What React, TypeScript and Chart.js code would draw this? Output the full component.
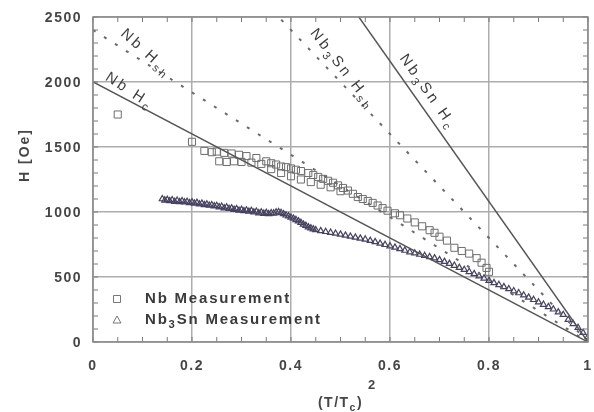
import React, { useEffect, useRef } from 'react';
import { Chart, registerables } from 'chart.js';

Chart.register(...registerables);

// ---- data ----
const nbMeasX = [0.05, 0.2, 0.225, 0.24, 0.25, 0.255, 0.265, 0.27, 0.28, 0.285, 0.295, 0.3, 0.31, 0.32, 0.33, 0.34, 0.35, 0.36, 0.37, 0.38, 0.39, 0.4, 0.41, 0.42, 0.435, 0.445, 0.455, 0.465, 0.475, 0.485, 0.495, 0.505, 0.515, 0.525, 0.535, 0.545, 0.555, 0.565, 0.575, 0.585, 0.595, 0.61, 0.62, 0.635, 0.65, 0.665, 0.68, 0.69, 0.7, 0.715, 0.73, 0.745, 0.76, 0.775, 0.785, 0.795, 0.8, 0.36, 0.38, 0.4, 0.42, 0.44, 0.46, 0.48, 0.5];
const nbMeasH = [1750, 1540, 1470, 1460, 1465, 1390, 1455, 1385, 1450, 1390, 1440, 1385, 1430, 1380, 1415, 1370, 1390, 1375, 1365, 1350, 1345, 1335, 1325, 1315, 1300, 1285, 1270, 1255, 1240, 1225, 1205, 1185, 1165, 1140, 1115, 1100, 1085, 1070, 1050, 1030, 1010, 990, 975, 950, 920, 890, 860, 840, 810, 780, 725, 700, 680, 645, 610, 570, 540, 1330, 1300, 1275, 1250, 1230, 1210, 1190, 1160];

const nb3SnMeasX = [0.14, 0.145, 0.15, 0.155, 0.16, 0.165, 0.17, 0.175, 0.18, 0.185, 0.19, 0.195, 0.2, 0.205, 0.21, 0.215, 0.22, 0.225, 0.23, 0.235, 0.24, 0.245, 0.25, 0.255, 0.26, 0.265, 0.27, 0.275, 0.28, 0.285, 0.29, 0.295, 0.3, 0.305, 0.31, 0.315, 0.32, 0.325, 0.33, 0.335, 0.34, 0.345, 0.35, 0.355, 0.36, 0.365, 0.37, 0.375, 0.38, 0.385, 0.39, 0.395, 0.4, 0.405, 0.41, 0.415, 0.42, 0.425, 0.43, 0.435, 0.44, 0.445, 0.45, 0.46, 0.47, 0.48, 0.49, 0.5, 0.51, 0.52, 0.53, 0.54, 0.55, 0.56, 0.57, 0.58, 0.59, 0.6, 0.61, 0.62, 0.63, 0.64, 0.65, 0.66, 0.67, 0.68, 0.69, 0.7, 0.71, 0.72, 0.73, 0.74, 0.75, 0.76, 0.77, 0.78, 0.79, 0.8, 0.81, 0.82, 0.83, 0.84, 0.85, 0.86, 0.87, 0.88, 0.89, 0.9, 0.91, 0.92, 0.93, 0.94, 0.95, 0.96, 0.97, 0.98, 0.99, 1.0];
const nb3SnMeasH = [1100, 1090, 1095, 1085, 1092, 1080, 1088, 1078, 1085, 1075, 1080, 1070, 1076, 1066, 1072, 1060, 1066, 1055, 1060, 1050, 1054, 1045, 1048, 1038, 1042, 1030, 1036, 1025, 1030, 1018, 1024, 1012, 1018, 1008, 1014, 1004, 1010, 998, 1004, 992, 998, 988, 995, 985, 992, 990, 998, 1000, 994, 985, 975, 968, 958, 950, 940, 930, 918, 905, 895, 884, 876, 868, 862, 855, 848, 842, 835, 828, 820, 812, 805, 797, 790, 780, 770, 758, 748, 738, 728, 716, 704, 692, 683, 673, 664, 655, 645, 632, 618, 603, 588, 572, 556, 540, 524, 507, 490, 472, 455, 440, 424, 408, 392, 377, 360, 343, 325, 306, 288, 270, 252, 230, 210, 172, 140, 110, 72, 40];

const lineX = [0, 1];
const nbHc = [2000, 0];
const nbHsh = [2400, 0];
const nb3SnHsh = [4000, 0];
const nb3SnHc = [5400, 0];

const xTicks = [0, 0.2, 0.4, 0.6, 0.8, 1];
const xTickLabels = ['0', '0.2', '0.4', '0.6', '0.8', '1'];
const yTicks = [0, 500, 1000, 1500, 2000, 2500];
const yTickLabels = ['0', '500', '1000', '1500', '2000', '2500'];

type Part = { t: string; sub?: boolean; sup?: boolean };
const curveLabels: { parts: Part[]; x: number; y: number; angle: number }[] = [
  { parts: [{ t: 'Nb H' }, { t: 'sh', sub: true }], x: 0.108, y: 2223, angle: 42 },
  { parts: [{ t: 'Nb H' }, { t: 'c', sub: true }], x: 0.074, y: 1931, angle: 33 },
  { parts: [{ t: 'Nb' }, { t: '3', sub: true }, { t: 'Sn H' }, { t: 'sh', sub: true }], x: 0.505, y: 2100, angle: 52 },
  { parts: [{ t: 'Nb' }, { t: '3', sub: true }, { t: 'Sn H' }, { t: 'c', sub: true }], x: 0.677, y: 1923, angle: 55 },
];

const legendItems: { parts: Part[]; style: string }[] = [
  { parts: [{ t: 'Nb Measurement' }], style: 'rect' },
  { parts: [{ t: 'Nb' }, { t: '3', sub: true }, { t: 'Sn Measurement' }], style: 'triangle' },
];

const FONT = '"Liberation Sans", Arial, Helvetica, sans-serif';

function drawRich(ctx: CanvasRenderingContext2D, parts: Part[], x: number, y: number, size: number, weight: string, align: 'left' | 'center' | 'right') {
  const widths: number[] = [];
  let total = 0;
  parts.forEach((p) => {
    const s = p.sub || p.sup ? size * 0.75 : size;
    ctx.font = `${weight} ${s}px ${FONT}`;
    const w = ctx.measureText(p.t).width;
    widths.push(w);
    total += w;
  });
  let cx = align === 'center' ? x - total / 2 : align === 'right' ? x - total : x;
  ctx.textAlign = 'left';
  parts.forEach((p, i) => {
    const s = p.sub || p.sup ? size * 0.75 : size;
    ctx.font = `${weight} ${s}px ${FONT}`;
    const dy = p.sub ? size * 0.35 : p.sup ? -size * 0.45 : 0;
    ctx.fillText(p.t, cx, y + dy);
    cx += widths[i];
  });
  return total;
}

const overlay = {
  id: 'overlay',
  afterDatasetsDraw(chart: any) {
    const ctx: CanvasRenderingContext2D = chart.ctx;
    const xs = chart.scales.x;
    const ys = chart.scales.y;
    const a = chart.chartArea;
    ctx.save();
    // minor ticks
    ctx.strokeStyle = '#7a7a7a';
    ctx.lineWidth = 1;
    ctx.beginPath();
    for (let i = 0; i <= 20; i++) {
      const px = xs.getPixelForValue(i * 0.05);
      ctx.moveTo(px, a.bottom);
      ctx.lineTo(px, a.bottom - 5);
      ctx.moveTo(px, a.top);
      ctx.lineTo(px, a.top + 5);
    }
    for (let i = 0; i <= 25; i++) {
      const py = ys.getPixelForValue(i * 100);
      ctx.moveTo(a.left, py);
      ctx.lineTo(a.left + 5, py);
      ctx.moveTo(a.right, py);
      ctx.lineTo(a.right - 5, py);
    }
    ctx.stroke();
    // box
    ctx.strokeStyle = '#8a8a8a';
    ctx.lineWidth = 1.5;
    ctx.strokeRect(a.left, a.top, a.right - a.left, a.bottom - a.top);

    // tick labels
    ctx.fillStyle = '#464646';
    (ctx as any).letterSpacing = '1.5px';
    ctx.textBaseline = 'middle';
    xTicks.forEach((v, i) => {
      drawRich(ctx, [{ t: xTickLabels[i] }], xs.getPixelForValue(v), 366, 14, 'bold', 'center');
    });
    yTicks.forEach((v, i) => {
      drawRich(ctx, [{ t: yTickLabels[i] }], 82, ys.getPixelForValue(v) + 1, 14, 'bold', 'right');
    });

    // axis titles
    (ctx as any).letterSpacing = '2px';
    ctx.save();
    ctx.translate(25, 155);
    ctx.rotate(-Math.PI / 2);
    drawRich(ctx, [{ t: 'H [Oe]' }], 0, 0, 14, 'bold', 'center');
    ctx.restore();
    (ctx as any).letterSpacing = '1.5px';
    const tw = drawRich(ctx, [{ t: '(T/T' }, { t: 'c', sub: true }, { t: ')' }], (a.left + a.right) / 2, 403, 14, 'bold', 'center');
    drawRich(ctx, [{ t: '2' }], (a.left + a.right) / 2 + tw / 2 + 5, 385, 13, 'bold', 'left');

    // curve labels
    ctx.fillStyle = '#3e3e3e';
    (ctx as any).letterSpacing = '3px';
    curveLabels.forEach((c) => {
      ctx.save();
      ctx.translate(xs.getPixelForValue(c.x), ys.getPixelForValue(c.y));
      ctx.rotate((c.angle * Math.PI) / 180);
      drawRich(ctx, c.parts, 0, 0, 15, 'normal', 'center');
      ctx.restore();
    });

    // legend
    (ctx as any).letterSpacing = '1.8px';
    const lx = a.left + 24;
    const ly = [299, 320];
    legendItems.forEach((it, i) => {
      ctx.strokeStyle = '#777';
      ctx.lineWidth = 1;
      ctx.beginPath();
      if (it.style === 'rect') {
        ctx.rect(lx - 3.5, ly[i] - 3.5, 7, 7);
      } else {
        ctx.moveTo(lx, ly[i] - 4);
        ctx.lineTo(lx + 4, ly[i] + 3);
        ctx.lineTo(lx - 4, ly[i] + 3);
        ctx.closePath();
      }
      ctx.stroke();
      ctx.fillStyle = '#3a3a3a';
      drawRich(ctx, it.parts, lx + 28, ly[i], 15, 'bold', 'left');
    });
    (ctx as any).letterSpacing = '0px';
    ctx.restore();
  },
};

export default function App() {
  const ref = useRef<HTMLCanvasElement | null>(null);
  useEffect(() => {
    if (!ref.current) return;
    const pts = (xs: number[], ys: number[]) => xs.map((x, i) => ({ x, y: ys[i] }));
    const chart = new Chart(ref.current, {
      type: 'scatter',
      data: {
        datasets: [
          {
            type: 'line',
            data: pts(lineX, nbHc),
            borderColor: '#555',
            borderWidth: 1.5,
            pointRadius: 0,
            fill: false,
          } as any,
          {
            type: 'line',
            data: pts(lineX, nbHsh),
            borderColor: '#6a6a6a',
            borderWidth: 2,
            borderDash: [3, 10],
            pointRadius: 0,
            fill: false,
          } as any,
          {
            type: 'line',
            data: pts(lineX, nb3SnHsh),
            borderColor: '#6a6a6a',
            borderWidth: 2,
            borderDash: [3, 10],
            pointRadius: 0,
            fill: false,
          } as any,
          {
            type: 'line',
            data: pts(lineX, nb3SnHc),
            borderColor: '#555',
            borderWidth: 1.5,
            pointRadius: 0,
            fill: false,
          } as any,
          {
            data: pts(nb3SnMeasX, nb3SnMeasH),
            pointStyle: 'triangle',
            pointRadius: 3.5,
            borderColor: '#46425f',
            backgroundColor: 'rgba(0,0,0,0)',
            borderWidth: 1.2,
          },
          {
            data: pts(nbMeasX, nbMeasH),
            pointStyle: 'rect',
            pointRadius: 5,
            borderColor: '#6e6e6e',
            backgroundColor: 'rgba(0,0,0,0)',
            borderWidth: 1,
          },
        ],
      },
      options: {
        animation: false,
        responsive: false,
        maintainAspectRatio: false,
        layout: { padding: { top: 17, right: 2, left: 0, bottom: 0 } },
        plugins: { legend: { display: false }, tooltip: { enabled: false } },
        scales: {
          x: {
            type: 'linear',
            min: 0,
            max: 1,
            ticks: { display: false, stepSize: 0.2 },
            grid: { color: '#adadad', lineWidth: 1.5, drawTicks: false },
            border: { display: false },
            afterFit: (s: any) => {
              s.height = 70;
            },
          },
          y: {
            type: 'linear',
            min: 0,
            max: 2500,
            ticks: { display: false, stepSize: 500 },
            grid: { color: '#adadad', lineWidth: 1.5, drawTicks: false },
            border: { display: false },
            afterFit: (s: any) => {
              s.width = 93;
            },
          },
        },
      } as any,
      plugins: [overlay],
    });
    return () => chart.destroy();
  }, []);
  return (
    <div style={{ position: 'fixed', left: 0, top: 0, width: 594, height: 412, background: '#fff' }}>
      <canvas ref={ref} width={594} height={412} />
    </div>
  );
}
